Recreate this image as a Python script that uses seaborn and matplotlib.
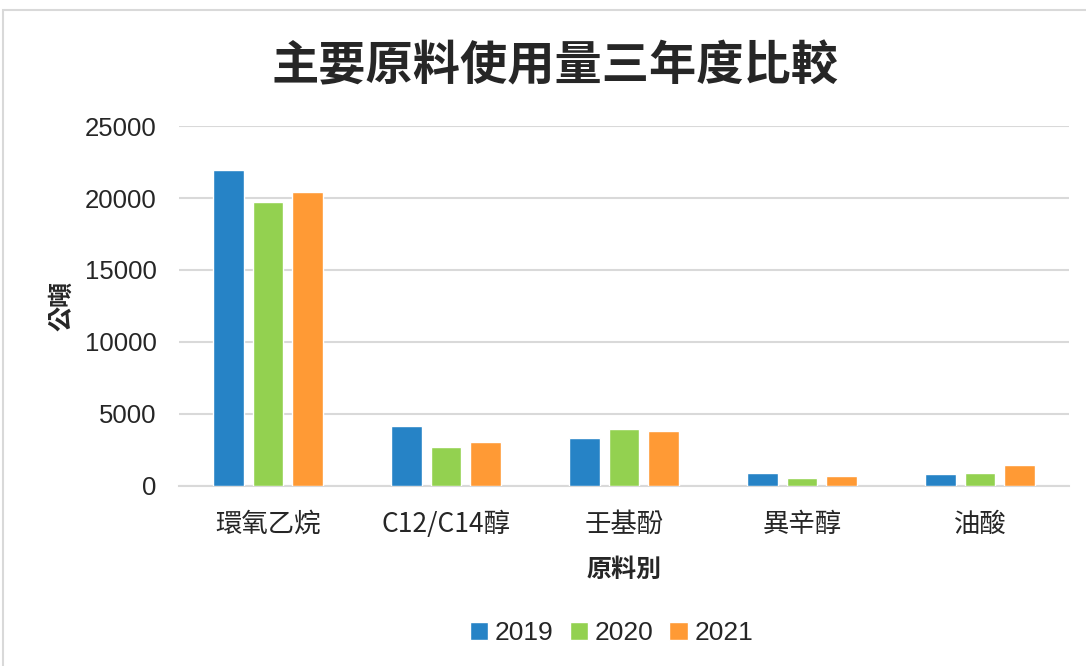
"""
Three-year comparison of main raw material usage (grouped bar chart)
"""
import numpy as np
import pandas as pd
import matplotlib
matplotlib.use('Agg')
import matplotlib.pyplot as plt
from matplotlib.patches import Rectangle
import seaborn as sns

# Data
materials = ['環氧乙烷', 'C12/C14醇', '壬基酚', '異辛醇', '油酸']
years = ['2019', '2020', '2021']
usage_2019 = [21950, 4150, 3330, 900, 830]
usage_2020 = [19700, 2700, 3930, 560, 880]
usage_2021 = [20400, 3030, 3820, 690, 1460]
y_ticks = [0, 5000, 10000, 15000, 20000, 25000]
colors = ['#2683C6', '#93D150', '#FF9A35']

sns.set_theme(style='white')
plt.rcParams['font.family'] = ['Noto Sans CJK TC', 'DejaVu Sans']

df = pd.DataFrame({
    'material': materials * 3,
    'year': np.repeat(years, len(materials)),
    'usage': usage_2019 + usage_2020 + usage_2021,
})

fig = plt.figure(figsize=(10.86, 6.66), dpi=100)
ax = fig.add_axes([0.1648, 0.2703, 0.8195, 0.5405])

sns.barplot(data=df, x='material', y='usage', hue='year', order=materials,
            hue_order=years, palette=colors, width=0.665, gap=0.22,
            saturation=1, errorbar=None, ax=ax, zorder=3)

ax.set_ylim(0, 25000)
ax.set_yticks(y_ticks)
ax.set_yticklabels([str(v) for v in y_ticks], family='Liberation Sans', fontsize=18.5)
ax.set_xlim(-0.5, len(materials) - 0.5)
ax.tick_params(axis='x', labelsize=19, pad=18, length=0)
ax.tick_params(axis='y', length=0, pad=16)
ax.grid(True, axis='y', color='#D9D9D9', linewidth=1.5, zorder=0)
for s in ['top', 'right', 'left']:
    ax.spines[s].set_visible(False)
ax.spines['bottom'].set_color('#D9D9D9')
ax.spines['bottom'].set_linewidth(1.5)

ax.set_xlabel('原料別', fontsize=18, fontweight='bold', labelpad=14)
ax.set_ylabel('公噸', fontsize=18, fontweight='bold', labelpad=8)

fig.text(0.511, 0.9, '主要原料使用量三年度比較', ha='center', va='center',
         fontsize=34, fontweight='bold')

handles, labels = ax.get_legend_handles_labels()
ax.legend(handles, labels, loc='center', ncol=3, frameon=False,
          handlelength=0.7, handleheight=0.7, handletextpad=0.25,
          columnspacing=0.6, prop={'family': 'Liberation Sans', 'size': 19})
ax.get_legend().set_bbox_to_anchor((0.563, 0.049), transform=fig.transFigure)

# light outer frame of the chart area
fig.patches.append(Rectangle((3 / 1086, -0.1), 1.2, 1 - 10 / 666 + 0.1,
                             transform=fig.transFigure, fill=False,
                             edgecolor='#D9D9D9', linewidth=1.5))

fig.savefig('out.png', dpi=100)
